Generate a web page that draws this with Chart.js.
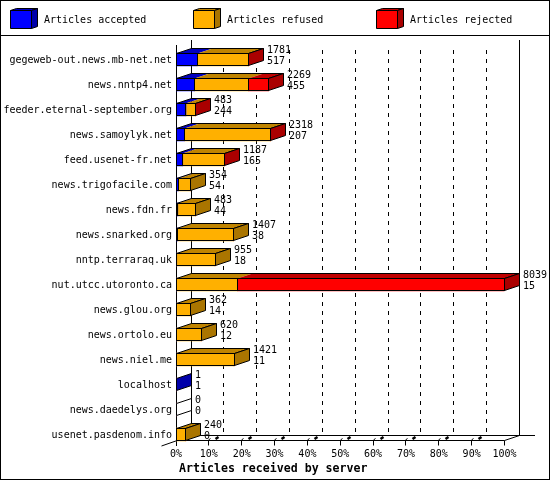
<!DOCTYPE html>
<html>
<head>
<meta charset="utf-8">
<script src="https://cdn.jsdelivr.net/npm/chart.js@4"></script>
<style>
  html, body { margin: 0; padding: 0; background: #fff; }
  canvas { display: block; }
</style>
</head>
<body>
<canvas id="chart" width="550" height="480" style="width:550px;height:480px"></canvas>
<script>
const servers = [
  'gegeweb-out.news.mb-net.net', 'news.nntp4.net', 'feeder.eternal-september.org', 'news.samoylyk.net',
  'feed.usenet-fr.net', 'news.trigofacile.com', 'news.fdn.fr', 'news.snarked.org',
  'nntp.terraraq.uk', 'nut.utcc.utoronto.ca', 'news.glou.org', 'news.ortolo.eu',
  'news.niel.me', 'localhost', 'news.daedelys.org', 'usenet.pasdenom.info'
];
const totals   = [1781, 2269, 483, 2318, 1187, 354, 483, 1407, 955, 8039, 362, 620, 1421, 1, 0, 240];
const accepted = [517, 455, 244, 207, 165, 54, 44, 38, 18, 15, 14, 12, 11, 1, 0, 0];
const refused  = [1262, 1317, 238, 2108, 1020, 300, 439, 1369, 937, 1487, 348, 608, 1410, 0, 0, 240];
const rejected = [2, 497, 1, 3, 2, 0, 0, 0, 0, 6537, 0, 0, 0, 0, 0, 0];
const tickPercents = [0, 10, 20, 30, 40, 50, 60, 70, 80, 90, 100];
const maxArticles = 8039;

const front = ['#0000ff', '#ffb000', '#ff0000'];
const top3d = ['#0000c0', '#c08400', '#c00000'];
const side3d = ['#0000aa', '#aa7500', '#aa0000'];
const legendX = [10, 193, 376];

// depth of the fake 3d
const DX = 15, DY = 5;

const poly = (ctx, pts, fill) => {
  ctx.beginPath();
  pts.forEach((p, i) => i ? ctx.lineTo(p[0], p[1]) : ctx.moveTo(p[0], p[1]));
  ctx.closePath();
  if (fill) { ctx.fillStyle = fill; ctx.fill(); }
  ctx.stroke();
};

const line = (ctx, x1, y1, x2, y2) => {
  ctx.beginPath();
  ctx.moveTo(x1, y1);
  ctx.lineTo(x2, y2);
  ctx.stroke();
};

const col = (px) => Math.floor(px) + 0.5;

// frame, legend, back wall and gridlines, all behind the bars
const backdrop = {
  id: 'backdrop',
  beforeDraw(chart) {
    // the long server names run left of the padded axis box, do not clip them
    chart.scales.y.left = 0;
  },
  beforeDatasetsDraw(chart) {
    const ctx = chart.ctx, xs = chart.scales.x;
    ctx.save();
    ctx.strokeStyle = '#000';
    ctx.lineWidth = 1;
    ctx.strokeRect(0.5, 0.5, 549, 479);
    line(ctx, 0, 35.5, 550, 35.5);

    chart.data.datasets.forEach((ds, i) => {
      const x = legendX[i];
      poly(ctx, [[x + 0.5, 10.5], [x + 6.5, 8.5], [x + 27.5, 8.5], [x + 21.5, 10.5]], top3d[i]);
      poly(ctx, [[x + 21.5, 10.5], [x + 27.5, 8.5], [x + 27.5, 26.5], [x + 21.5, 28.5]], side3d[i]);
      poly(ctx, [[x + 0.5, 10.5], [x + 21.5, 10.5], [x + 21.5, 28.5], [x + 0.5, 28.5]], front[i]);
      ctx.fillStyle = '#000';
      ctx.font = '10px "DejaVu Sans Mono"';
      ctx.textBaseline = 'middle';
      ctx.textAlign = 'left';
      ctx.fillText(ds.label, x + 34, 20);
    });

    // solid walls and floor
    const x0 = col(xs.getPixelForValue(0));
    const x100 = col(xs.getPixelForValue(maxArticles));
    line(ctx, x0 + DX, 40, x0 + DX, 435.5);
    line(ctx, x100 + DX, 40, x100 + DX, 435.5);
    line(ctx, x0 + DX, 435.5, 535, 435.5);
    line(ctx, x0, 45, x0, 446);
    line(ctx, x0, 440.5, x100, 440.5);
    line(ctx, x100, 440.5, x100 + DX, 435.5);
    line(ctx, x0 - 15, 446, x0 + DX, 435.5);

    tickPercents.forEach((p) => {
      if (p === 0) return;
      const x = col(xs.getPixelForValue(p / 100 * maxArticles));
      line(ctx, x, 440.5, x, 445.5);
      if (p === 100) return;
      ctx.setLineDash([4, 5]);
      line(ctx, x + DX, 50, x + DX, 435);
      ctx.setLineDash([]);
      // dashed floor tick, mostly a small blob
      ctx.lineWidth = 2.5;
      line(ctx, x + 7, 439, x + 10, 437);
      ctx.lineWidth = 1;
      line(ctx, x, 440, x + 2, 438.5);
    });
    ctx.restore();
  },
  afterDatasetsDraw(chart) {
    const ctx = chart.ctx;
    ctx.save();
    ctx.strokeStyle = '#000';
    ctx.lineWidth = 1;
    servers.forEach((name, row) => {
      const segs = chart.data.datasets.map((ds, i) => {
        const el = chart.getDatasetMeta(i).data[row];
        return { i, v: ds.data[row], x1: col(el.base), x2: col(el.x) };
      }).filter((s) => s.v > 0);
      const el0 = chart.getDatasetMeta(0).data[row];
      const yt = Math.round(el0.y - 6.5) + 0.5, yb = yt + 12;
      const xStart = col(el0.base);
      const xEnd = segs.length ? segs[segs.length - 1].x2 : xStart;
      const last = segs.length ? segs[segs.length - 1].i : -1;

      // top face: one fill per segment, one outline round all of them
      segs.forEach((s) => {
        ctx.beginPath();
        ctx.moveTo(s.x1, yt);
        ctx.lineTo(s.x2, yt);
        ctx.lineTo(s.x2 + DX, yt - DY);
        ctx.lineTo(s.x1 + DX, yt - DY);
        ctx.closePath();
        ctx.fillStyle = top3d[s.i];
        ctx.fill();
      });
      if (xEnd > xStart) {
        poly(ctx, [[xStart, yt], [xEnd, yt], [xEnd + DX, yt - DY], [xStart + DX, yt - DY]]);
      }
      poly(ctx, [[xEnd, yt], [xEnd + DX, yt - DY], [xEnd + DX, yb - DY], [xEnd, yb]], last >= 0 ? side3d[last] : '#fff');
      segs.forEach((s) => {
        if (s.x2 > s.x1) ctx.strokeRect(s.x1, yt, s.x2 - s.x1, yb - yt);
      });

      ctx.fillStyle = '#000';
      ctx.font = '10px "DejaVu Sans Mono"';
      ctx.textAlign = 'left';
      ctx.textBaseline = 'middle';
      ctx.fillText(String(totals[row]), xEnd + 18.5, yt + 6 - 9);
      ctx.fillText(String(accepted[row]), xEnd + 18.5, yt + 6 + 2);
    });
    ctx.restore();
  }
};

new Chart(document.getElementById('chart'), {
  type: 'bar',
  plugins: [backdrop],
  data: {
    labels: servers,
    datasets: [
      { label: 'Articles accepted', data: accepted, backgroundColor: front[0] },
      { label: 'Articles refused', data: refused, backgroundColor: front[1] },
      { label: 'Articles rejected', data: rejected, backgroundColor: front[2] }
    ]
  },
  options: {
    indexAxis: 'y',
    responsive: false,
    animation: false,
    devicePixelRatio: 1,
    layout: { padding: { top: 47, right: 45.5, left: 42, bottom: 0 } },
    datasets: { bar: { barThickness: 13, borderWidth: 0 } },
    plugins: {
      legend: { display: false },
      tooltip: { enabled: false },
      title: {
        display: true,
        position: 'bottom',
        text: 'Articles received by server',
        color: '#000',
        font: { family: '"DejaVu Sans Mono"', size: 11.6, weight: 'bold', lineHeight: 1.2 },
        padding: { top: 0, bottom: 4 }
      }
    },
    scales: {
      x: {
        stacked: true,
        min: 0,
        max: maxArticles,
        grid: { display: false, drawTicks: false },
        border: { display: false },
        afterBuildTicks: (axis) => { axis.ticks = tickPercents.map((p) => ({ value: p / 100 * maxArticles })); },
        afterFit: (axis) => { axis.height = 15.1; },
        ticks: {
          autoSkip: false,
          maxRotation: 0,
          padding: 1,
          color: '#000',
          font: { family: '"DejaVu Sans Mono"', size: 10 },
          callback: (v, i) => tickPercents[i] + '%'
        }
      },
      y: {
        stacked: true,
        grid: { display: false, drawTicks: false },
        border: { display: false },
        afterFit: (axis) => { axis.width = 134; },
        ticks: {
          autoSkip: false,
          padding: 4,
          labelOffset: 1,
          color: '#000',
          font: { family: '"DejaVu Sans Mono"', size: 10 }
        }
      }
    }
  }
});
</script>
</body>
</html>
